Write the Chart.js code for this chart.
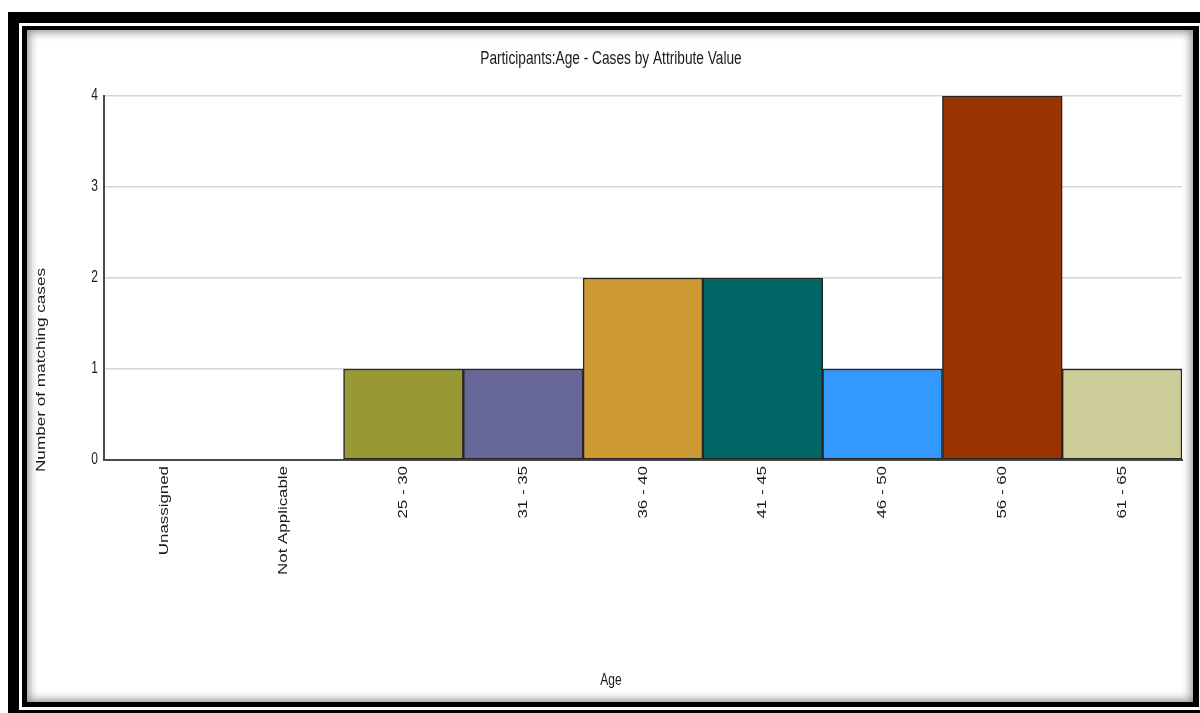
<!DOCTYPE html>
<html>
<head>
<meta charset="utf-8">
<title>Participants:Age - Cases by Attribute Value</title>
<script src="https://cdn.jsdelivr.net/npm/chart.js@4.4.1/dist/chart.umd.min.js"></script>
<style>
  html, body { margin: 0; padding: 0; background: #fff; width: 1200px; height: 713px; overflow: hidden; }
  .frame-outer { position: absolute; left: 8px; top: 12px; width: 1260px; height: 760px; background: #000; }
  .frame-gap { position: absolute; left: 19px; top: 23px; width: 1200px; height: 687px; background: #fff; }
  .panel {
    position: absolute; left: 22px; top: 26px; width: 1166px; height: 672px;
    border-style: solid; border-color: #000; border-width: 4px 6px 5px 5px;
    background: #fff; box-shadow: inset 0 0 10px 2px rgba(0, 0, 0, 0.45);
  }
  #chart { position: absolute; left: 0; top: 0; }
</style>
</head>
<body>
<div class="frame-outer"></div>
<div class="frame-gap"></div>
<div class="panel"></div>
<canvas id="chart" width="1200" height="713"></canvas>
<script>
// Age bands and the number of matching cases in each
const categories = ['Unassigned', 'Not Applicable', '25 - 30', '31 - 35', '36 - 40', '41 - 45', '46 - 50', '56 - 60', '61 - 65'];
const caseCounts = [0, 0, 1, 1, 2, 2, 1, 4, 1];
const barColors = ['#999933', '#999933', '#999933', '#666699', '#CC9933', '#006666', '#3399FF', '#993300', '#CCCC99'];
const yTickValues = [0, 1, 2, 3, 4];

const chartTitle = 'Participants:Age - Cases by Attribute Value';
const xAxisTitle = 'Age';
const yAxisTitle = 'Number of matching cases';

const FONT = '"Liberation Sans", Arial, sans-serif';
const TEXT_COLOR = '#1a1a1a';

// Draw a scale's tick labels taller than wide (sx/sy are in the label's own frame)
function stretchLabels(scale, sx, sy) {
  if (scale.__stretched) return;
  scale.__stretched = true;
  const draw = scale.drawLabels;
  scale.drawLabels = function (area) {
    const ctx = this.ctx;
    const fill = CanvasRenderingContext2D.prototype.fillText;
    ctx.fillText = function (t, x, y) {
      this.save();
      this.scale(sx, sy);
      fill.call(this, t, x / sx, y / sy);
      this.restore();
    };
    try { draw.call(this, area); } finally { delete ctx.fillText; }
  };
}

function drawText(ctx, text, x, y, rot, sx, sy, size) {
  ctx.save();
  ctx.translate(x, y);
  ctx.rotate(rot);
  ctx.scale(sx, sy);
  ctx.font = size + 'px ' + FONT;
  ctx.fillStyle = TEXT_COLOR;
  ctx.textAlign = 'center';
  ctx.textBaseline = 'alphabetic';
  ctx.fillText(text, 0, 0);
  ctx.restore();
}

const labelsPlugin = {
  id: 'chartTexts',
  beforeDraw(chart) {
    stretchLabels(chart.scales.x, 1.27, 1);
    stretchLabels(chart.scales.y, 1, 1.3);
  },
  afterDraw(chart) {
    const ctx = chart.ctx;
    drawText(ctx, chartTitle, 611, 64, 0, 1, 1.33, 13.7);
    drawText(ctx, xAxisTitle, 611, 685, 0, 1, 1.35, 12);
    drawText(ctx, yAxisTitle, 45, 370, -Math.PI / 2, 1.43, 1, 12);
  }
};

new Chart(document.getElementById('chart'), {
  type: 'bar',
  data: {
    labels: categories,
    datasets: [{
      data: caseCounts,
      backgroundColor: barColors,
      borderColor: '#262626',
      borderWidth: 1.5,
      borderSkipped: false,
      barPercentage: 1,
      categoryPercentage: 1
    }]
  },
  options: {
    responsive: false,
    animation: false,
    devicePixelRatio: 1,
    layout: { padding: { top: 96, right: 18, left: 0, bottom: 0 } },
    plugins: {
      legend: { display: false },
      title: { display: false },
      tooltip: { enabled: false }
    },
    scales: {
      x: {
        grid: { display: false, drawTicks: false },
        border: { display: true, color: '#4a4a4a', width: 2 },
        ticks: {
          autoSkip: false,
          minRotation: 90,
          maxRotation: 90,
          padding: 6,
          color: TEXT_COLOR,
          font: { family: FONT, size: 13.3 }
        },
        afterFit(scale) { scale.height = 713 - 460; }
      },
      y: {
        min: 0,
        max: 4,
        afterBuildTicks(scale) { scale.ticks = yTickValues.map(v => ({ value: v })); },
        grid: {
          drawTicks: false,
          color: ctx => (ctx.tick && ctx.tick.value === 0) ? 'rgba(0,0,0,0)' : '#d6d6d6',
          lineWidth: 1.5
        },
        border: { display: true, color: '#4a4a4a', width: 2 },
        ticks: {
          padding: 6,
          color: TEXT_COLOR,
          font: { family: FONT, size: 12 }
        },
        afterFit(scale) { scale.width = 104; }
      }
    }
  },
  plugins: [labelsPlugin]
});
</script>
</body>
</html>
